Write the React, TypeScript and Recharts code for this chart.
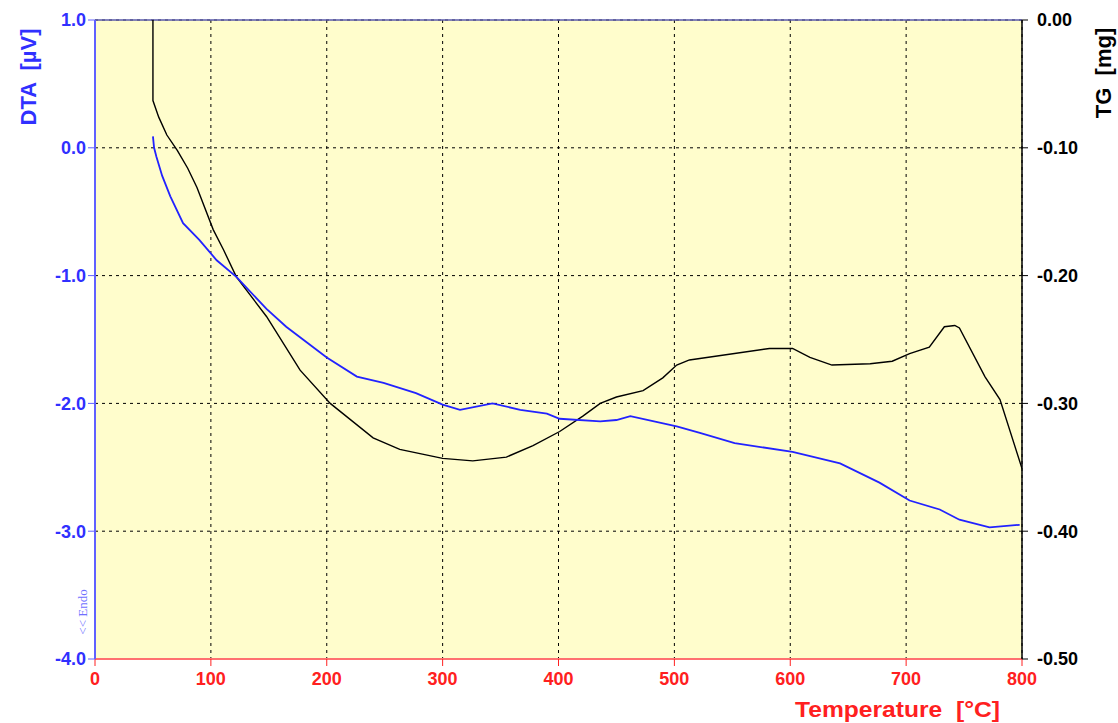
import React from 'react'
import {
  LineChart,
  Line,
  XAxis,
  YAxis,
  CartesianGrid,
  ReferenceLine,
  Label,
} from 'recharts'

// DTA curve (blue), temperature in °C and signal in µV
const dtaTemps = [
  50, 51, 53, 58, 65, 76, 90, 105, 122, 148, 165, 200, 226, 249, 277, 300, 315,
  343, 367, 390, 401, 436, 450, 462, 502, 522, 552, 602, 643, 677, 703, 729, 746,
  772, 798,
]
const dtaValues = [
  0.09, 0.0, -0.07, -0.22, -0.38, -0.59, -0.72, -0.88, -1.01, -1.26, -1.4, -1.64,
  -1.79, -1.84, -1.92, -2.01, -2.05, -2.0, -2.05, -2.08, -2.12, -2.14, -2.13,
  -2.1, -2.18, -2.23, -2.31, -2.38, -2.47, -2.62, -2.76, -2.83, -2.91, -2.97,
  -2.95,
]

// TG curve (black), mass change in mg
const tgTemps = [
  50, 50, 55, 62, 71, 80, 88, 102, 111, 122, 148, 177, 203, 240, 263, 300, 326,
  355, 378, 401, 421, 436, 450, 473, 490, 502, 513, 582, 602, 617, 636, 669, 688,
  703, 720, 733, 742, 746, 768, 781, 800,
]
const tgValues = [
  0.0, -0.063, -0.076, -0.09, -0.102, -0.116, -0.131, -0.164, -0.18, -0.201,
  -0.232, -0.274, -0.3, -0.327, -0.336, -0.343, -0.345, -0.342, -0.333, -0.322,
  -0.31, -0.3, -0.295, -0.29, -0.28, -0.27, -0.266, -0.257, -0.257, -0.264,
  -0.27, -0.269, -0.267, -0.261, -0.256, -0.24, -0.239, -0.241, -0.279, -0.297,
  -0.351,
]

const tempTicks = [0, 100, 200, 300, 400, 500, 600, 700, 800]
const dtaTicks = [1, 0, -1, -2, -3, -4]
const tgTicks = [0, -0.1, -0.2, -0.3, -0.4, -0.5]

const dtaData = dtaTemps.map((t, i) => ({ t, v: dtaValues[i] }))
const tgData = tgTemps.map((t, i) => ({ t, v: tgValues[i] }))

const FONT = '"Liberation Sans", Arial, sans-serif'
const BLUE = '#3030ff'
const RED = '#ff2020'

export default function App() {
  return (
    <div style={{ position: 'absolute', left: 0, top: 0 }}>
      <LineChart
        width={1118}
        height={723}
        margin={{ top: 20, right: 0, left: 0, bottom: 0 }}
      >
        <CartesianGrid
          yAxisId="dta"
          fill="#FFFDCC"
          stroke="#000"
          strokeDasharray="3 4"
        />
        <XAxis
          dataKey="t"
          type="number"
          domain={[0, 800]}
          ticks={tempTicks}
          allowDataOverflow
          height={64}
          tickSize={7}
          tickMargin={6}
          axisLine={{ stroke: '#ff7070', strokeWidth: 2 }}
          tickLine={{ stroke: RED }}
          tick={{ fill: RED, fontSize: 18, fontWeight: 'bold', fontFamily: FONT }}
        >
          <Label
            content={() => (
              <text
                x={795}
                y={717}
                textLength={205}
                lengthAdjust="spacingAndGlyphs"
                fill={RED}
                fontSize={22}
                fontWeight="bold"
                fontFamily={FONT}
                style={{ whiteSpace: 'pre' }}
              >
                {'Temperature  [°C]'}
              </text>
            )}
          />
        </XAxis>
        <YAxis
          yAxisId="dta"
          domain={[-4, 1]}
          ticks={dtaTicks}
          allowDataOverflow
          width={95}
          tickSize={7}
          tickMargin={2}
          axisLine={{ stroke: '#6060ff', strokeWidth: 2 }}
          tickLine={{ stroke: '#6060ff' }}
          tickFormatter={(v: number) => v.toFixed(1)}
          tick={{ fill: BLUE, fontSize: 18, fontWeight: 'bold', fontFamily: FONT }}
        >
          <Label
            content={() => (
              <g>
                <text
                  x={28}
                  y={77}
                  transform="rotate(-90 28 77)"
                  textAnchor="middle"
                  dominantBaseline="central"
                  fill={BLUE}
                  fontSize={22}
                  fontWeight="bold"
                  fontFamily={FONT}
                  style={{ whiteSpace: 'pre' }}
                >
                  {'DTA  [µV]'}
                </text>
                <text
                  x={82}
                  y={612}
                  transform="rotate(-90 82 612)"
                  textAnchor="middle"
                  dominantBaseline="central"
                  fill="#7070ff"
                  fontSize={13}
                  fontFamily='"Liberation Serif", "Times New Roman", serif'
                >
                  {'<< Endo'}
                </text>
              </g>
            )}
          />
        </YAxis>
        <YAxis
          yAxisId="tg"
          orientation="right"
          domain={[-0.5, 0]}
          ticks={tgTicks}
          allowDataOverflow
          width={96}
          tickSize={6}
          tickMargin={9}
          axisLine={{ stroke: '#000', strokeWidth: 1.5 }}
          tickLine={{ stroke: '#000' }}
          tickFormatter={(v: number) => v.toFixed(2)}
          tick={{ fill: '#000', fontSize: 18, fontWeight: 'bold', fontFamily: FONT }}
        >
          <Label
            content={() => (
              <text
                x={1103}
                y={73}
                transform="rotate(-90 1103 73)"
                textAnchor="middle"
                dominantBaseline="central"
                fill="#000"
                fontSize={22}
                fontWeight="bold"
                fontFamily={FONT}
                style={{ whiteSpace: 'pre' }}
              >
                {'TG  [mg]'}
              </text>
            )}
          />
        </YAxis>
        <ReferenceLine yAxisId="dta" y={1} stroke="#5a5aaa" strokeWidth={1.5} />
        <Line
          yAxisId="tg"
          data={tgData}
          dataKey="v"
          type="linear"
          stroke="#000"
          strokeWidth={1.4}
          dot={false}
          isAnimationActive={false}
        />
        <Line
          yAxisId="dta"
          data={dtaData}
          dataKey="v"
          type="linear"
          stroke="#2222ff"
          strokeWidth={1.8}
          dot={false}
          isAnimationActive={false}
        />
      </LineChart>
    </div>
  )
}
